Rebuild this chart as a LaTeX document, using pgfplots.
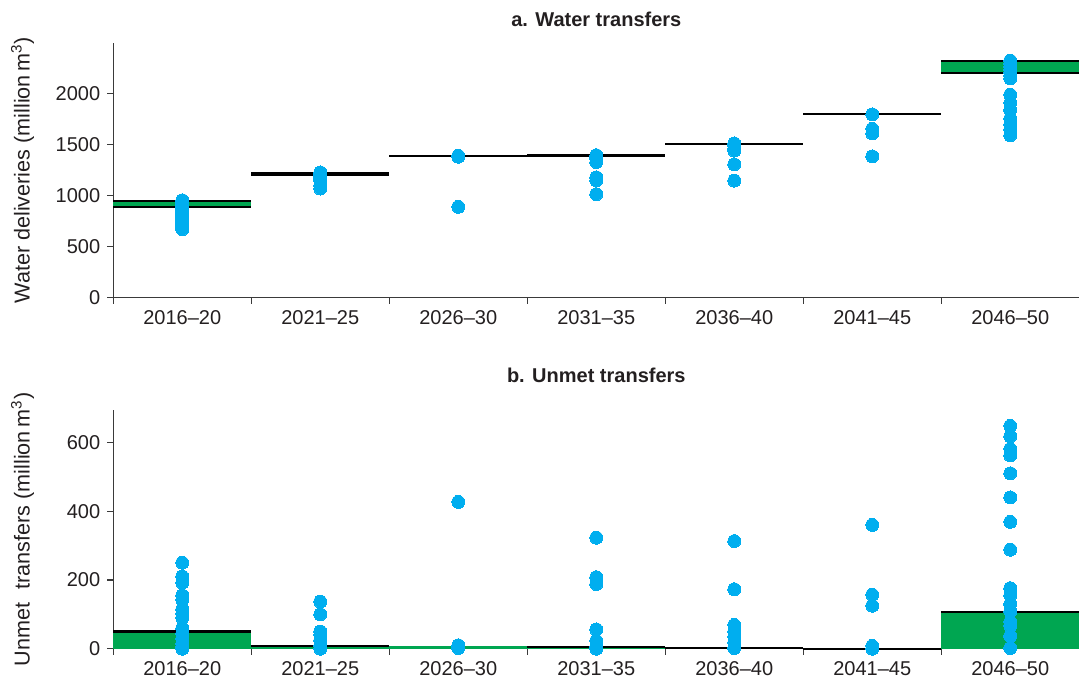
\documentclass[border=0pt]{standalone}
\usepackage{fontspec}
\setmainfont{Liberation Sans}
\usepackage{pgfplots}
\pgfplotsset{compat=1.18}
\definecolor{barg}{HTML}{00A651}
\definecolor{dotc}{HTML}{00AEEF}
\definecolor{txt}{HTML}{231F20}
\definecolor{axc}{HTML}{3A3A3A}

\pgfplotsset{
  panel/.style={
    scale only axis, width=483pt, xmin=0, xmax=7,
    axis x line*=bottom, axis y line*=left,
    axis line style={axc, line width=0.6pt},
    tick align=outside, clip=false,
    xtick={0.5,1.5,...,6.5},
    xticklabels={2016–20,2021–25,2026–30,2031–35,2036–40,2041–45,2046–50},
    major x tick style={draw=none},
    minor xtick={0,1,...,6},
    tick style={axc, line width=0.6pt},
    major tick length=3pt, minor tick length=3pt,
    tick label style={txt, font=\fontsize{10}{12}\selectfont},
    /pgf/number format/1000 sep={},
    /pgf/number format/assume math mode=true,
    every axis title shift=0pt,
    ylabel style={at={(axis description cs:-0.094,0.5)}, anchor=center,
      txt, font=\fontsize{10.8}{13}\selectfont},
  },
  dots/.style={only marks, mark=*, mark size=3.25pt, color=dotc,
    mark options={fill=dotc, draw=dotc, line width=0pt}},
  rng/.style={fill=barg, draw=none},
  edge/.style={black, line width=1.1pt, unbounded coords=jump},
}

\begin{document}
\begin{tikzpicture}
% a. water transfers
\begin{axis}[panel, name=top, height=127.5pt, ymin=0, ymax=2500,
  ytick={0,500,...,2000},
  title={a. Water transfers},
  title style={at={(axis description cs:0.5,1)}, anchor=south, yshift=4.5pt,
    txt, font=\fontsize{10}{12}\selectfont\bfseries},
  ylabel={Water deliveries (million\,m\textsuperscript{3})}]
\addplot[rng] coordinates {(0,891)(1,891)(1,946)(0,946)};
\addplot[rng] coordinates {(1,1207)(2,1207)(2,1224)(1,1224)};
\addplot[rng] coordinates {(3,1387)(4,1387)(4,1395)(3,1395)};
\addplot[rng] coordinates {(6,2205)(7,2205)(7,2322)(6,2322)};
\addplot[edge] coordinates {(0,946)(1,946)(1,nan)(1,1224)(2,1224)(2,nan)
  (2,1388)(3,1388)(3,nan)(3,1395)(4,1395)(4,nan)(4,1509)(5,1509)(5,nan)
  (5,1797)(6,1797)(6,nan)(6,2322)(7,2322)};
\addplot[edge] coordinates {(0,891)(1,891)(1,nan)(1,1207)(2,1207)(2,nan)
  (3,1387)(4,1387)(4,nan)(6,2205)(7,2205)};
\addplot[dots] coordinates {
  (0.5,955)(0.5,940)(0.5,925)(0.5,910)(0.5,895)(0.5,880)(0.5,865)(0.5,850)
  (0.5,835)(0.5,820)(0.5,805)(0.5,790)(0.5,775)(0.5,760)(0.5,745)(0.5,730)
  (0.5,715)(0.5,700)(0.5,685)(0.5,672)
  (1.5,1228)(1.5,1210)(1.5,1190)(1.5,1170)(1.5,1150)(1.5,1100)(1.5,1070)
  (2.5,1392)(2.5,1382)(2.5,891)
  (3.5,1397)(3.5,1380)(3.5,1360)(3.5,1330)(3.5,1180)(3.5,1150)(3.5,1015)
  (4.5,1512)(4.5,1490)(4.5,1465)(4.5,1442)(4.5,1307)(4.5,1148)
  (5.5,1797)(5.5,1655)(5.5,1610)(5.5,1385)
  (6.5,2324)(6.5,2295)(6.5,2265)(6.5,2235)(6.5,2205)(6.5,2175)(6.5,2150)
  (6.5,1990)(6.5,1910)(6.5,1840)(6.5,1755)(6.5,1700)(6.5,1650)(6.5,1592)};
\end{axis}
% b. unmet transfers
\begin{axis}[panel, name=bot, at={(0,-175.5pt)}, height=119.3pt, ymin=0, ymax=694,
  ytick={0,200,400,600},
  title={b. Unmet transfers},
  title style={at={(axis description cs:0.5,1)}, anchor=south, yshift=10pt,
    txt, font=\fontsize{10}{12}\selectfont\bfseries},
  ylabel={Unmet\hspace{0.6em}transfers (million\,m\textsuperscript{3})}]
\addplot[rng] coordinates {(0,0)(1,0)(1,50)(0,50)};
\addplot[rng] coordinates {(1,0)(2,0)(2,8)(1,8)};
\addplot[rng] coordinates {(2,0)(3,0)(3,7)(2,7)};
\addplot[rng] coordinates {(3,0)(4,0)(4,4)(3,4)};
\addplot[rng] coordinates {(6,0)(7,0)(7,106)(6,106)};
\addplot[edge] coordinates {(0,50)(1,50)(1,nan)(1,8)(2,8)(2,nan)
  (3,4)(4,4)(4,nan)(4,1)(5,1)(5,nan)(5,0)(6,0)(6,nan)(6,106)(7,106)};
\addplot[dots] coordinates {
  (0.5,250)(0.5,210)(0.5,192)(0.5,155)(0.5,142)(0.5,115)(0.5,102)(0.5,90)
  (0.5,60)(0.5,45)(0.5,30)(0.5,15)(0.5,5)(0.5,0)
  (1.5,137)(1.5,100)(1.5,50)(1.5,40)(1.5,25)(1.5,10)(1.5,0)
  (2.5,427)(2.5,10)(2.5,2)
  (3.5,323)(3.5,208)(3.5,188)(3.5,56)(3.5,23)(3.5,5)(3.5,0)
  (4.5,313)(4.5,173)(4.5,69)(4.5,50)(4.5,35)(4.5,18)(4.5,2)
  (5.5,360)(5.5,157)(5.5,125)(5.5,8)(5.5,0)
  (6.5,648)(6.5,618)(6.5,581)(6.5,562)(6.5,510)(6.5,440)(6.5,369)(6.5,288)
  (6.5,176)(6.5,155)(6.5,130)(6.5,109)(6.5,78)(6.5,67)(6.5,37)(6.5,2)};
\end{axis}
\path[use as bounding box] ([xshift=-56.65pt,yshift=-192.65pt]top.south west)
  rectangle ([xshift=483.85pt,yshift=148.85pt]top.south west);
\end{tikzpicture}
\end{document}
